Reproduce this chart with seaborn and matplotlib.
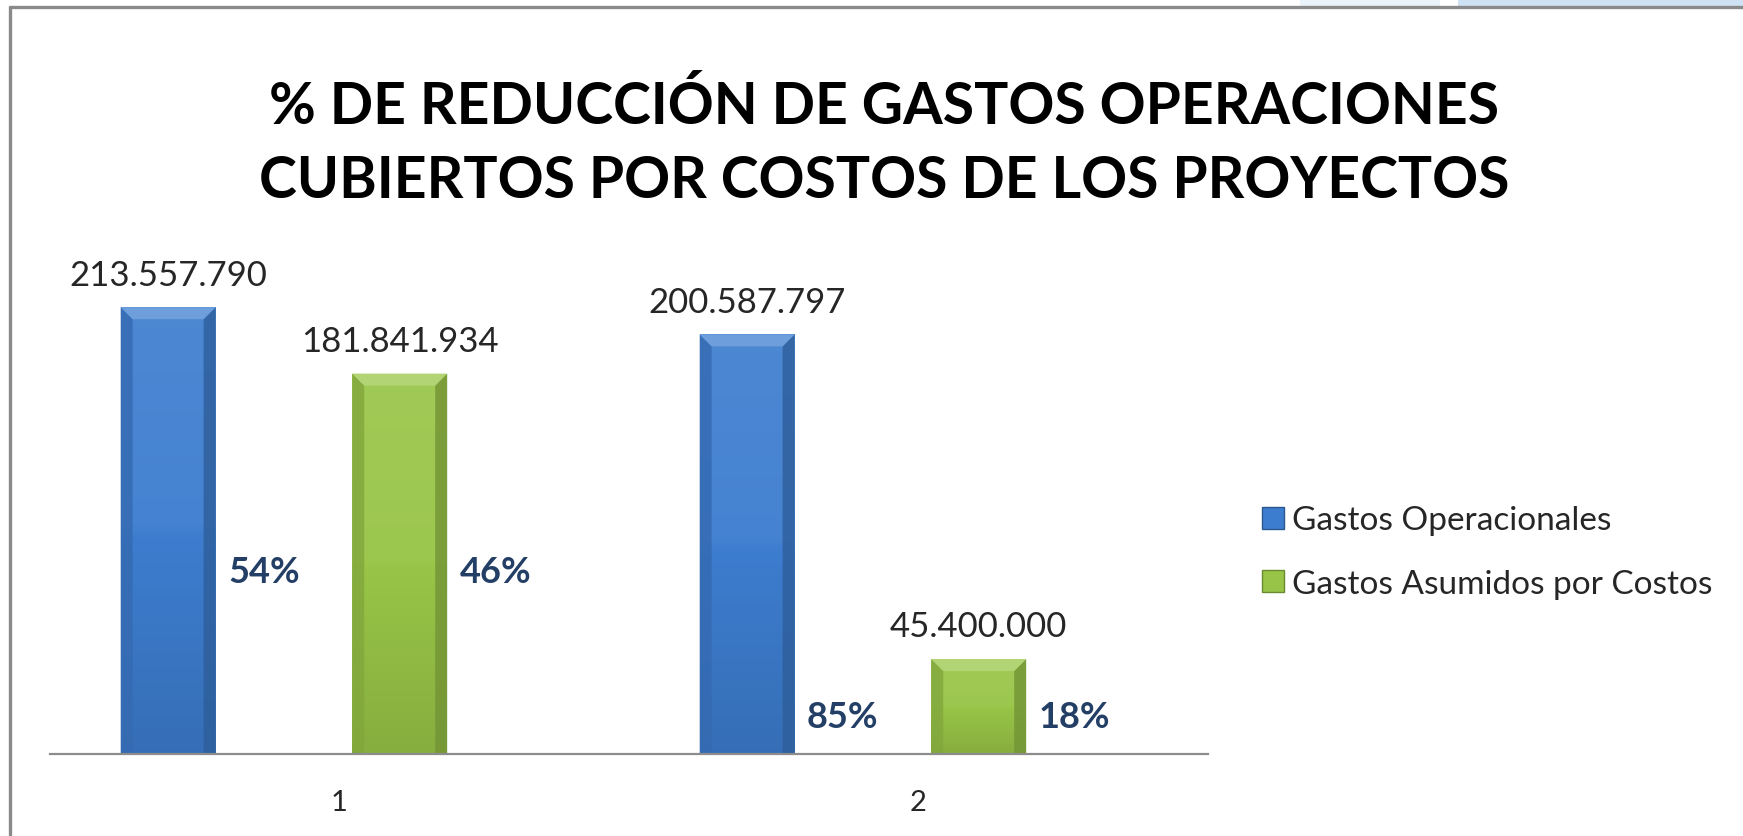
import numpy as np
import pandas as pd
import matplotlib
matplotlib.use("Agg")
import matplotlib.pyplot as plt
import matplotlib.colors as mcolors
import seaborn as sns
from matplotlib.patches import Polygon, Patch
from matplotlib.lines import Line2D

# datos del grafico
grupos = ["1", "2"]
series = ["Gastos Operacionales", "Gastos Asumidos por Costos"]
gastos_operacionales = [213557790, 200587797]
gastos_asumidos = [181841934, 45400000]
pct_operacionales = ["54%", "85%"]
pct_asumidos = ["46%", "18%"]
pct_altura = [87e6, 18e6]  # altura de las etiquetas % en cada grupo

df = pd.DataFrame({
    "grupo": grupos * 2,
    "serie": [series[0]] * len(grupos) + [series[1]] * len(grupos),
    "valor": gastos_operacionales + gastos_asumidos,
})

sns.set_theme(style="white")
plt.rcParams["font.family"] = ["Lato", "DejaVu Sans"]

W, H = 1743, 837
fig = plt.figure(figsize=(W / 100, H / 100), dpi=100)
fig.patch.set_facecolor("white")
ax = fig.add_axes([50 / W, (H - 755) / H, (1208 - 50) / W, (755 - 232) / H])

colores = ["#3D7DCF", "#98C547"]
sns.barplot(data=df, x="grupo", y="valor", hue="serie", palette=colores,
            saturation=1, width=0.8, gap=0.59, ax=ax, legend=False)

shift = 0.096
ax.set_xlim(-0.5 + shift, 1.5 + shift)
ax.set_ylim(0, 250e6)
ax.set_xticks(np.arange(len(grupos)) + shift)
ax.set_xticklabels(grupos)
ax.set_yticks([])
ax.set_xlabel("")
ax.set_ylabel("")
for s in ["top", "right", "left"]:
    ax.spines[s].set_visible(False)
ax.spines["bottom"].set_color("#8C8C8C")
ax.spines["bottom"].set_linewidth(1.6)
ax.tick_params(axis="x", length=0, pad=25, labelsize=21, labelcolor="#262626")


def mezcla(c, otro, t):
    a = np.array(mcolors.to_rgb(c))
    b = np.array(mcolors.to_rgb(otro))
    return tuple(a * (1 - t) + b * t)


inv = ax.transData.inverted()
d = 12  # bisel en pixeles
for cont, base in zip(ax.containers, colores):
    for bar in cont:
        x0, y0 = bar.get_x(), bar.get_y()
        x1, y1 = x0 + bar.get_width(), y0 + bar.get_height()
        (p0, q0), (p1, q1) = ax.transData.transform([(x0, y0), (x1, y1)])
        # degradado vertical de la cara
        n = 64
        grad = np.array([mezcla(base, "white", 0.08 * (1 - k / n)) if k < n / 2 else
                         mezcla(base, "black", 0.12 * (k / n - 0.5) * 2) for k in range(n)])
        im = ax.imshow(grad.reshape(n, 1, 3), extent=[x0, x1, y0, y1], aspect="auto",
                       origin="upper", zorder=2.1, interpolation="bicubic")
        im.set_clip_path(bar)
        dd = min(d, (q1 - q0) / 2)
        top = inv.transform([(p0, q1), (p1, q1), (p1 - d, q1 - dd), (p0 + d, q1 - dd)])
        left = inv.transform([(p0, q0), (p0, q1), (p0 + d, q1 - dd), (p0 + d, q0)])
        right = inv.transform([(p1, q0), (p1, q1), (p1 - d, q1 - dd), (p1 - d, q0)])
        ax.add_patch(Polygon(left, closed=True, fc=mezcla(base, "black", 0.15), ec="none", zorder=2.2, alpha=0.8))
        ax.add_patch(Polygon(right, closed=True, fc=mezcla(base, "black", 0.25), ec="none", zorder=2.2, alpha=0.8))
        ax.add_patch(Polygon(top, closed=True, fc=mezcla(base, "white", 0.25), ec="none", zorder=2.3))
    vals = [b.get_height() for b in cont]
    ax.bar_label(cont, labels=[f"{v:,.0f}".replace(",", ".") for v in vals],
                 padding=12, fontsize=25, color="#262626")

ax.set_xlim(-0.5 + shift, 1.5 + shift)
ax.set_ylim(0, 250e6)

# etiquetas de porcentaje a la derecha de cada barra
for cont, pcts in zip(ax.containers, [pct_operacionales, pct_asumidos]):
    for bar, txt, yy in zip(cont, pcts, pct_altura):
        ax.annotate(txt, (bar.get_x() + bar.get_width(), yy), xytext=(9, 0),
                    textcoords="offset points", ha="left", va="center",
                    fontsize=26, fontweight="bold", color="#243F66", zorder=5)

# titulo
fig.text(884 / W, 1 - 80 / H, "% DE REDUCCIÓN DE GASTOS OPERACIONES\nCUBIERTOS POR COSTOS DE LOS PROYECTOS",
         ha="center", va="top", fontsize=41, fontweight="bold", color="black", linespacing=1.5)

# leyenda
handles = [Patch(facecolor=c, edgecolor=mezcla(c, "black", 0.3)) for c in colores]
fig.legend(handles, series, loc="center left", bbox_to_anchor=(1232 / W, 1 - 553 / H),
           frameon=False, fontsize=24, handlelength=0.65, handleheight=0.65,
           handletextpad=0.25, labelspacing=1.0, labelcolor="#262626")

# marco y decoracion superior
fig.add_artist(Polygon([(1300 / W, 1), (1440 / W, 1), (1440 / W, 1 - 7 / H), (1300 / W, 1 - 7 / H)],
                       closed=True, transform=fig.transFigure, fc="#EAF2FA", ec="none"))
fig.add_artist(Polygon([(1458 / W, 1), (1, 1), (1, 1 - 7 / H), (1458 / W, 1 - 7 / H)],
                       closed=True, transform=fig.transFigure, fc="#CFE2F4", ec="none"))
fig.add_artist(Line2D([10 / W, 10 / W], [0, 1 - 8 / H], transform=fig.transFigure, color="#8A8A8A", lw=2.4))
fig.add_artist(Line2D([10 / W, 1], [1 - 8 / H, 1 - 8 / H], transform=fig.transFigure, color="#8A8A8A", lw=2.4))

fig.savefig("out.png", dpi=100)
